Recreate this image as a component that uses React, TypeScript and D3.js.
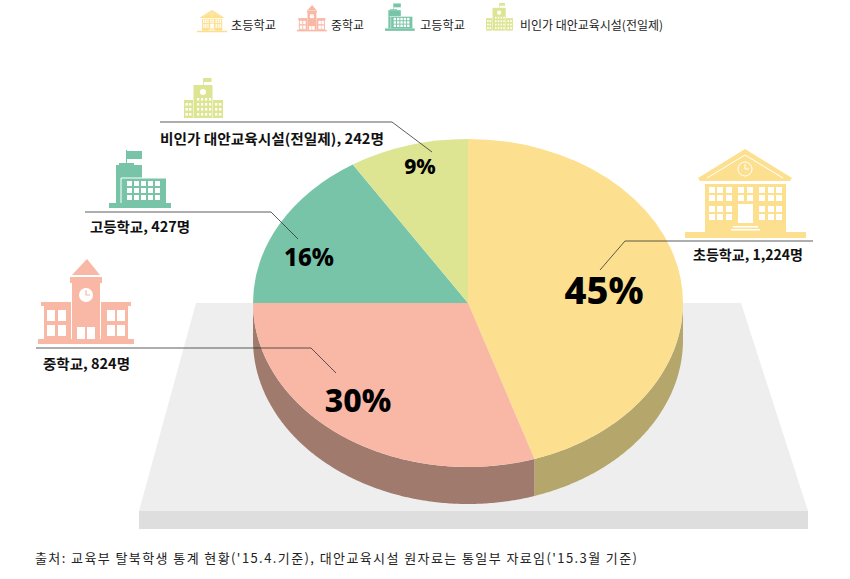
import * as d3 from "d3";
import React from "react";

const categories = ["초등학교", "중학교", "고등학교", "비인가 대안교육시설(전일제)"];
const students = [1224, 824, 427, 242];
const shares = [45, 30, 16, 9];
const topColors = ["#fde08f", "#f9b8a6", "#78c4a9", "#dde593"];
const wallColors = ["#b5a66b", "#a17a6e", "#5a9380", "#a6ac6e"];
const footnote = "출처: 교육부 탈북학생 통계 현황('15.4.기준), 대안교육시설 원자료는 통일부 자료임('15.3월 기준)";

const WIDTH = 850;
const HEIGHT = 579;
const cx = 468;
const cy = 303;
const rx = 215;
const ry = 164;
const depth = 37;
const SANS = "'Noto Sans CJK KR', 'Noto Sans', sans-serif";

const slices = d3.pie<number>().sort(null).value((d) => d)(shares);
const arc = d3.arc<d3.PieArcDatum<number>>().innerRadius(0).outerRadius(rx);
const px = (a: number) => cx + rx * Math.sin(a);
const py = (a: number) => cy - ry * Math.cos(a);

// the side of the cake, only the front half shows
const wallPath = (start: number, end: number) => {
  const a0 = Math.max(start, Math.PI / 2);
  const a1 = Math.min(end, (3 * Math.PI) / 2);
  if (a0 >= a1) return null;
  return d3
    .area<number>()
    .x((a) => px(a))
    .y0((a) => py(a))
    .y1((a) => py(a) + depth)(d3.range(a0, a1, 0.01).concat([a1]));
};

const leader = d3.line();

// label placement per category
const labelBoxes = [
  { x: 693, y: 260, w: 110 },
  { x: 43, y: 369, w: 87 },
  { x: 90, y: 232, w: 100 },
  { x: 160, y: 144, w: 224 },
];
const leaders: [number, number][][] = [
  [[813, 241], [625, 241], [600, 270]],
  [[36, 348], [311, 348], [336, 373]],
  [[85, 212], [271, 212], [298, 239]],
  [[160, 122], [392, 122], [432, 152]],
];
const pctLabels = [
  { x: 604, y: 304, size: 38, w: 76 },
  { x: 358, y: 412, size: 32, w: 64 },
  { x: 309, y: 266, size: 24, w: 50 },
  { x: 420, y: 174, size: 21, w: 31 },
];
const legendItems = [
  { x: 197, y: 10, s: 0.25, tx: 231, tw: 45 },
  { x: 297, y: 5, s: 0.31, tx: 331, tw: 33 },
  { x: 385, y: 3, s: 0.48, tx: 420, tw: 45 },
  { x: 486, y: 3, s: 0.69, tx: 520, tw: 143 },
];

const Windows: React.FC<{ xs: number[]; ys: number[]; w: number; h: number }> = ({ xs, ys, w, h }) => (
  <g fill="#fff">
    {xs.flatMap((x) => ys.map((y) => <rect key={`${x}-${y}`} x={x} y={y} width={w} height={h} />))}
  </g>
);

const ElementaryIcon: React.FC<{ c: string }> = ({ c }) => (
  <g fill={c}>
    <rect x={0} y={83} width={121} height={6} />
    <rect x={20} y={35} width={81} height={48} />
    <polygon points="60,0 107,29 105,32 15,32 13,29" />
    <path d="M22 29L60 6L98 29" fill="none" stroke="#fff" strokeWidth={1} />
    <circle cx={60} cy={20} r={7} fill="none" stroke="#fff" strokeWidth={1} />
    <path d="M60 15v5h4" fill="none" stroke="#fff" strokeWidth={1} />
    <Windows xs={[24, 32, 41, 74, 83, 91]} ys={[38, 46, 57, 65]} w={6} h={6} />
    <Windows xs={[53, 62]} ys={[38, 46]} w={6} h={6} />
    <rect x={53} y={55} width={15} height={19} fill="#fff" />
    <rect x={48} y={77} width={25} height={1.5} fill="#fff" />
    <rect x={46} y={80} width={29} height={1.5} fill="#fff" />
  </g>
);

const MiddleIcon: React.FC<{ c: string }> = ({ c }) => (
  <g fill={c}>
    <rect x={0} y={80} width={96} height={5} />
    <rect x={6} y={43} width={84} height={37} />
    <rect x={3} y={43} width={90} height={4} />
    <rect x={33} y={18} width={30} height={62} />
    <rect x={32} y={18} width={32} height={6} />
    <polygon points="49,0 62,16 34,16" />
    <rect x={33} y={24} width={1} height={56} fill="#fff" />
    <rect x={62} y={24} width={1} height={56} fill="#fff" />
    <circle cx={48} cy={36} r={7} fill="#fff" />
    <path d="M48 31v5h4" fill="none" stroke={c} strokeWidth={1.2} />
    <Windows xs={[9, 20, 69, 79]} ys={[51, 66]} w={8} h={11} />
    <Windows xs={[39, 49]} ys={[68]} w={8} h={12} />
  </g>
);

const HighIcon: React.FC<{ c: string }> = ({ c }) => (
  <g fill={c}>
    <rect x={0} y={53} width={62} height={5} />
    <rect x={7} y={28} width={50} height={25} />
    <rect x={7} y={15} width={26} height={13} />
    <rect x={10} y={13} width={15} height={2} />
    <rect x={17} y={0} width={1} height={14} />
    <rect x={18} y={1} width={15} height={8} />
    <path d="M12 53V28H57" fill="none" stroke="#fff" strokeWidth={1} />
    <Windows xs={[18, 25, 32, 39, 46]} ys={[31, 38, 45]} w={5} h={5} />
  </g>
);

const AltIcon: React.FC<{ c: string }> = ({ c }) => (
  <g fill={c}>
    <rect x={0} y={22} width={9} height={18} />
    <rect x={29} y={22} width={10} height={18} />
    <rect x={9.5} y={7} width={19} height={33} />
    <rect x={19} y={0} width={0.8} height={7} />
    <rect x={19.5} y={0} width={8} height={4} />
    <circle cx={19} cy={14} r={3} fill="#fff" />
    <Windows xs={[1.5, 5, 31, 35]} ys={[25, 30, 35]} w={2.4} h={2.6} />
    <Windows xs={[13, 17, 21, 25]} ys={[20, 25, 30, 35]} w={2.2} h={2.6} />
  </g>
);

const Icon: React.FC<{ i: number }> = ({ i }) => {
  const c = topColors[i];
  if (i === 0) return <ElementaryIcon c={c} />;
  if (i === 1) return <MiddleIcon c={c} />;
  if (i === 2) return <HighIcon c={c} />;
  return <AltIcon c={c} />;
};

const iconSpots = [
  { x: 685, y: 149 },
  { x: 38, y: 259 },
  { x: 109, y: 150 },
  { x: 184, y: 78 },
];

const App: React.FC = () => (
  <svg width={WIDTH} height={HEIGHT} style={{ position: "absolute", left: 0, top: 0, background: "#fff" }}>
    {/* floor */}
    <polygon points="196,303 741,303 808,511 139,511" fill="#eeeeee" />
    <rect x={139} y={511} width={669} height={18} fill="#dedede" />

    {/* pie */}
    {slices.map((d, i) => {
      const wall = wallPath(d.startAngle, d.endAngle);
      return wall ? <path key={i} d={wall} fill={wallColors[i]} /> : null;
    })}
    <g transform={`translate(${cx},${cy}) scale(1,${ry / rx})`}>
      {slices.map((d, i) => (
        <path key={i} d={arc(d) ?? ""} fill={topColors[i]} />
      ))}
    </g>

    {/* legend */}
    {legendItems.map((l, i) => (
      <g key={i}>
        <g transform={`translate(${l.x},${l.y}) scale(${l.s})`}>
          <Icon i={i} />
        </g>
        <text x={l.tx} y={30} fontFamily={SANS} fontSize={12} fill="#222" textLength={l.tw} lengthAdjust="spacingAndGlyphs">
          {categories[i]}
        </text>
      </g>
    ))}

    {/* big building icons */}
    {iconSpots.map((s, i) => (
      <g key={i} transform={`translate(${s.x},${s.y})`}>
        <Icon i={i} />
      </g>
    ))}

    {/* callouts */}
    {leaders.map((pts, i) => (
      <path key={i} d={leader(pts) ?? ""} fill="none" stroke="#333" strokeWidth={0.8} />
    ))}
    {labelBoxes.map((b, i) => (
      <text
        key={i}
        x={b.x}
        y={b.y}
        fontFamily={SANS}
        fontSize={14}
        fontWeight={700}
        fill="#111"
        textLength={b.w}
        lengthAdjust="spacingAndGlyphs"
      >
        {`${categories[i]}, ${d3.format(",")(students[i])}명`}
      </text>
    ))}
    {pctLabels.map((p, i) => (
      <text
        key={i}
        x={p.x}
        y={p.y}
        textAnchor="middle"
        fontFamily="'Noto Sans', sans-serif"
        fontSize={p.size}
        fontWeight={800}
        fill="#000"
      >
        {`${shares[i]}%`}
      </text>
    ))}

    <text
      x={35}
      y={563}
      fontFamily={SANS}
      fontSize={13}
      fill="#222"
      textLength={602}
      lengthAdjust="spacing"
    >
      {footnote}
    </text>
  </svg>
);

export default App;
